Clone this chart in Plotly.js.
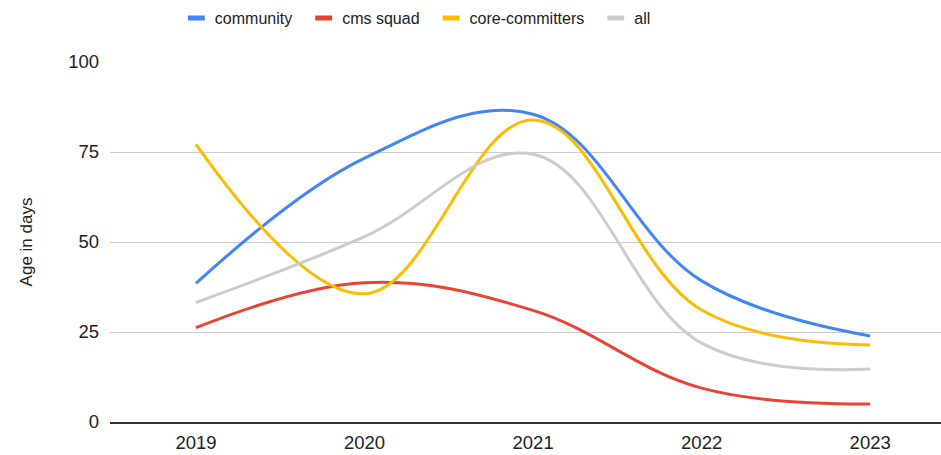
<!DOCTYPE html>
<html>
<head>
<meta charset="utf-8">
<script src="https://cdn.plot.ly/plotly-3.0.1.min.js"></script>
<style>html,body{margin:0;padding:0;background:#fff;}#chart{width:941px;height:455px;}</style>
</head>
<body>
<div id="chart"></div>
<script>
const years = ["2019", "2020", "2021", "2022", "2023"];
const community = [38.5, 73.3, 85.5, 39.2, 23.9];
const cmsSquad = [26.2, 38.7, 31.0, 9.4, 5.0];
const coreCommitters = [77.1, 35.6, 83.9, 31.1, 21.4];
const all = [33.2, 51.5, 74.4, 21.9, 14.7];
const yTicks = [0, 25, 50, 75, 100];

function tr(name, y, color) {
  return {x: years, y: y, name: name, type: 'scatter', mode: 'lines',
    line: {color: color, width: 3, shape: 'spline', smoothing: 1.1}, hoverinfo: 'skip'};
}
const data = [
  tr('community', community, '#4285F4'),
  tr('cms squad', cmsSquad, '#EA4335'),
  tr('core-committers', coreCommitters, '#FBBC04'),
  tr('all', all, '#CCCCCC')
];
const layout = {
  width: 941, height: 455,
  margin: {l: 110, r: 0, t: 62, b: 33, pad: 0},
  paper_bgcolor: '#fff', plot_bgcolor: '#fff',
  font: {family: 'Liberation Sans, Arial, sans-serif', size: 16, color: '#222'},
  showlegend: true,
  legend: {orientation: 'h', x: 0.072, xanchor: 'left', y: 1.122, yanchor: 'middle',
    font: {size: 16, color: '#222'}, itemwidth: 35, bgcolor: 'rgba(0,0,0,0)'},
  xaxis: {type: 'category', range: [-0.51, 4.42], showgrid: false, zeroline: false,
    showline: true, linecolor: '#333', linewidth: 1.5, ticks: '', fixedrange: true,
    ticklabelstandoff: 3, tickfont: {size: 18.5, color: '#222'}},
  yaxis: {range: [0, 100], tickvals: yTicks, ticktext: yTicks.map(String), showgrid: true,
    gridcolor: '#cccccc', gridwidth: 1, zeroline: false, showline: false, ticks: '',
    ticklabelstandoff: 10, tickfont: {size: 18.5, color: '#222'},
    title: {text: 'Age in days', font: {size: 17, color: '#222'}, standoff: 31}}
};
Plotly.newPlot('chart', data, layout, {displayModeBar: false, staticPlot: true}).then(function () {
  document.querySelectorAll('.legend .legendlines path').forEach(function (p) {
    p.setAttribute('d', 'M18,0h17');
    p.style.strokeWidth = '5px';
    p.style.strokeLinecap = 'butt';
  });
});
</script>
</body>
</html>
